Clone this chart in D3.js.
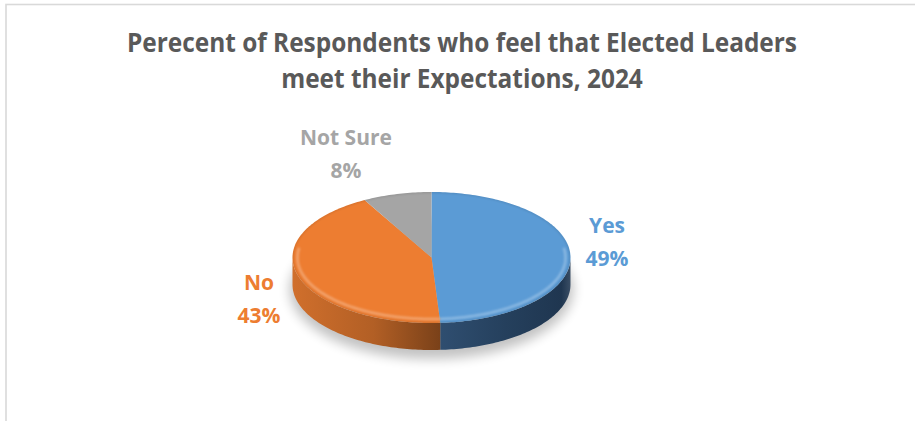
<!DOCTYPE html>
<html>
<head>
<meta charset="utf-8">
<script src="https://cdn.jsdelivr.net/npm/d3@7"></script>
<style>
  html, body { margin: 0; padding: 0; background: #fff; }
  svg { display: block; }
  text { font-family: "Open Sans", "Noto Sans", sans-serif; font-weight: 700; }
</style>
</head>
<body>
<svg id="chart" width="915" height="421"></svg>
<script>
// Survey results
const categories = ["Yes", "No", "Not Sure"];
const values = [49, 43, 8];
const titleLines = [
  "Perecent of Respondents who feel that Elected Leaders",
  "meet their Expectations, 2024"
];

// Palette: top face, wall light end, wall dark end, label colour
const topColors  = ["#5B9BD5", "#ED7D31", "#A5A5A5"];
const wallLight  = ["#2f4e70", "#d06f2c", "#7c7c7c"];
const wallDark   = ["#1f3650", "#7a4119", "#555555"];
const labelColors = ["#5B9BD5", "#ED7D31", "#A5A5A5"];

const W = 915, H = 421;
const svg = d3.select("#chart");

// Chart frame (only the top and left edges fall inside the view)
svg.append("rect")
  .attr("x", 6).attr("y", 4.5)
  .attr("width", W + 20).attr("height", H + 20)
  .attr("fill", "#fff")
  .attr("stroke", "#d9d9d9").attr("stroke-width", 1.6);

// Title: a slightly condensed bold face, first line spanning the set width
const title = svg.append("g");
const titleWidth = 670, titleCx = 462, titleSize = 27;
const tLines = title.selectAll("text").data(titleLines).join("text")
  .attr("x", titleCx)
  .attr("text-anchor", "middle")
  .attr("fill", "#595959")
  .attr("font-size", titleSize)
  .text(d => d);
const widths = tLines.nodes().map(n => n.getComputedTextLength());
const squeeze = titleWidth / widths[0];
tLines
  .attr("textLength", (d, i) => widths[i] * squeeze)
  .attr("lengthAdjust", "spacingAndGlyphs")
  .attr("y", (d, i) => 52 + i * 36);

// 3-D pie geometry
const cx = 431.5, cy = 257.5, rx = 139, ry = 65.5, depth = 27;

const pie = d3.pie().sort(null).value(d => d.value)
  .startAngle(0).endAngle(2 * Math.PI);
const arcs = pie(categories.map((c, i) => ({ name: c, value: values[i], i })));

const px = a => cx + rx * Math.sin(a);
const py = a => cy - ry * Math.cos(a);

function topPath(a0, a1) {
  const p = d3.path();
  p.moveTo(cx, cy);
  const n = Math.max(2, Math.ceil((a1 - a0) / 0.02));
  for (let k = 0; k <= n; k++) {
    const a = a0 + (a1 - a0) * k / n;
    p.lineTo(px(a), py(a));
  }
  p.closePath();
  return p.toString();
}

function wallPath(a0, a1) {
  const n = Math.max(2, Math.ceil((a1 - a0) / 0.02));
  const p = d3.path();
  for (let k = 0; k <= n; k++) {
    const a = a0 + (a1 - a0) * k / n;
    if (k === 0) p.moveTo(px(a), py(a)); else p.lineTo(px(a), py(a));
  }
  for (let k = n; k >= 0; k--) {
    const a = a0 + (a1 - a0) * k / n;
    p.lineTo(px(a), py(a) + depth);
  }
  p.closePath();
  return p.toString();
}

const defs = svg.append("defs");
defs.append("filter").attr("id", "soft")
  .attr("x", "-20%").attr("y", "-50%").attr("width", "140%").attr("height", "200%")
  .append("feGaussianBlur").attr("stdDeviation", 6);
defs.append("filter").attr("id", "bevelBlur")
  .append("feGaussianBlur").attr("stdDeviation", 1.2);

// Soft drop shadow under the pie
svg.append("ellipse")
  .attr("cx", cx).attr("cy", cy + depth + 5)
  .attr("rx", rx + 3).attr("ry", ry + 4)
  .attr("fill", "#000").attr("opacity", 0.24)
  .attr("filter", "url(#soft)");

// Front walls: only the part of each slice between 90° and 270° faces the viewer
const front0 = Math.PI / 2, front1 = 3 * Math.PI / 2;
arcs.forEach(d => {
  const a0 = Math.max(d.startAngle, front0);
  const a1 = Math.min(d.endAngle, front1);
  if (a1 <= a0) return;
  const i = d.data.i;
  const x0 = px(a0), x1 = px(a1);
  // Light end faces the outer side of the pie, dark end faces the centre line
  const lightAtLeft = (x0 + x1) / 2 < cx;
  const g = defs.append("linearGradient")
    .attr("id", "wall" + i)
    .attr("gradientUnits", "userSpaceOnUse")
    .attr("x1", Math.min(x0, x1)).attr("x2", Math.max(x0, x1))
    .attr("y1", 0).attr("y2", 0);
  if (lightAtLeft) {
    g.append("stop").attr("offset", 0).attr("stop-color", wallLight[i]);
    g.append("stop").attr("offset", 0.55).attr("stop-color", d3.interpolateRgb(wallLight[i], wallDark[i])(0.35));
    g.append("stop").attr("offset", 1).attr("stop-color", wallDark[i]);
  } else {
    g.append("stop").attr("offset", 0).attr("stop-color", wallLight[i]);
    g.append("stop").attr("offset", 0.5).attr("stop-color", d3.interpolateRgb(wallLight[i], wallDark[i])(0.6));
    g.append("stop").attr("offset", 0.93).attr("stop-color", wallDark[i]);
    g.append("stop").attr("offset", 1).attr("stop-color", d3.interpolateRgb(wallDark[i], "#ffffff")(0.12));
  }
  svg.append("path")
    .attr("d", wallPath(a0, a1))
    .attr("fill", `url(#wall${i})`);
});

// Top faces
const clip = defs.append("clipPath").attr("id", "topClip");
clip.append("ellipse").attr("cx", cx).attr("cy", cy).attr("rx", rx).attr("ry", ry);

arcs.forEach(d => {
  svg.append("path")
    .attr("d", topPath(d.startAngle, d.endAngle))
    .attr("fill", topColors[d.data.i]);
});

// Bevel highlight along the front rim of the top face
const rim = svg.append("g").attr("clip-path", "url(#topClip)");
arcs.forEach(d => {
  const a0 = Math.max(d.startAngle, Math.PI * 0.45);
  const a1 = Math.min(d.endAngle, Math.PI * 1.55);
  if (a1 <= a0) return;
  const n = Math.ceil((a1 - a0) / 0.02);
  const pts = d3.range(n + 1).map(k => {
    const a = a0 + (a1 - a0) * k / n;
    return [cx + (rx - 5) * Math.sin(a), cy - (ry - 4) * Math.cos(a)];
  });
  rim.append("path")
    .attr("d", d3.line()(pts))
    .attr("fill", "none")
    .attr("stroke", d3.interpolateRgb(topColors[d.data.i], "#ffffff")(0.3))
    .attr("stroke-width", 2.5)
    .attr("filter", "url(#bevelBlur)");
});
// Slight darkening right at the outer edge
rim.append("ellipse")
  .attr("cx", cx).attr("cy", cy).attr("rx", rx).attr("ry", ry)
  .attr("fill", "none").attr("stroke", "#000").attr("stroke-opacity", 0.12)
  .attr("stroke-width", 2).attr("filter", "url(#bevelBlur)");

// Data labels, anchored on the rim at each slice's mid angle
const labelNudge = { "Yes": [36.6, -22.4], "No": [-39, 14.2], "Not Sure": [-51, -49] };
const lineGap = 33;
arcs.forEach(d => {
  const mid = (d.startAngle + d.endAngle) / 2;
  const [dx, dy] = labelNudge[d.data.name];
  const x = px(mid) + dx, y = py(mid) + dy;
  const pct = Math.round(d.value / d3.sum(values) * 100) + "%";
  const t = svg.append("text")
    .attr("text-anchor", "middle")
    .attr("font-size", 21)
    .attr("fill", labelColors[d.data.i]);
  t.append("tspan").attr("x", x).attr("y", y).text(d.data.name);
  t.append("tspan").attr("x", x).attr("y", y + lineGap).text(pct);
});
</script>
</body>
</html>
